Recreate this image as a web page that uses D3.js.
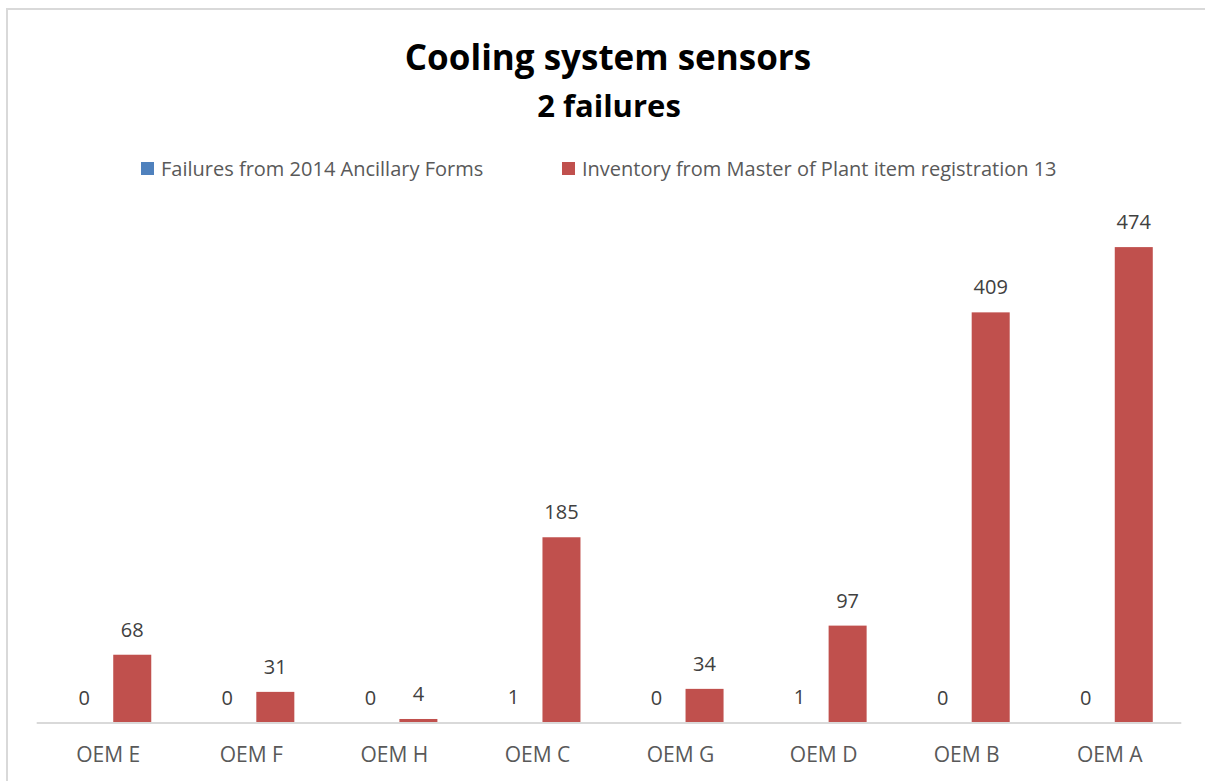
<!DOCTYPE html>
<html>
<head>
<meta charset="utf-8">
<script src="https://cdn.jsdelivr.net/npm/d3@7"></script>
<style>
  html, body { margin: 0; padding: 0; background: #ffffff; }
  svg { display: block; }
  text { font-family: "Open Sans", Lato, sans-serif; }
</style>
</head>
<body>
<svg id="chart" width="1205" height="781"></svg>
<script>
const categories = ["OEM E", "OEM F", "OEM H", "OEM C", "OEM G", "OEM D", "OEM B", "OEM A"];
const seriesNames = ["Failures from 2014 Ancillary Forms", "Inventory from Master of Plant item registration 13"];
const failures = [0, 0, 0, 1, 0, 1, 0, 0];
const inventory = [68, 31, 4, 185, 34, 97, 409, 474];
const seriesColors = ["#4F81BD", "#C0504D"];
const titleText = "Cooling system sensors";
const subtitleText = "2 failures";
const yMax = 500;

const series = [failures, inventory];
const svg = d3.select("#chart");

// chart area border
svg.append("rect")
  .attr("x", 7).attr("y", 9).attr("width", 1230).attr("height", 800)
  .attr("fill", "none").attr("stroke", "#D9D9D9").attr("stroke-width", 2);

const left = 36.7, right = 1181.3, baseline = 723;
const x0 = d3.scaleBand().domain(categories).range([left, right]).padding(0);
const x1 = d3.scaleBand().domain(d3.range(series.length))
  .range([0, x0.bandwidth()]).paddingInner(0.2083).paddingOuter(0.594);
const y = d3.scaleLinear().domain([0, yMax]).range([baseline, 221]);

// Title
svg.append("text").attr("x", 608).attr("y", 70).attr("text-anchor", "middle")
  .attr("font-size", 35).attr("font-weight", "bold").attr("fill", "#000")
  .text(titleText);
svg.append("text").attr("x", 609).attr("y", 117).attr("text-anchor", "middle")
  .attr("font-size", 31).attr("font-weight", "bold").attr("fill", "#000")
  .text(subtitleText);

// Legend
const legendX = [141, 562];
seriesNames.forEach((name, i) => {
  const g = svg.append("g").attr("transform", `translate(${legendX[i]},0)`);
  g.append("rect").attr("x", 0).attr("y", 162).attr("width", 13).attr("height", 13)
    .attr("fill", seriesColors[i]);
  g.append("text").attr("x", 20).attr("y", 176).attr("font-size", 20)
    .attr("fill", "#595959").text(name);
});

// Bars
const groups = svg.append("g").selectAll("g").data(categories).join("g")
  .attr("transform", d => `translate(${x0(d)},0)`);

groups.selectAll("rect")
  .data((d, ci) => series.map((s, si) => ({ si, v: s[ci] })))
  .join("rect")
  .attr("x", d => x1(d.si))
  .attr("width", x1.bandwidth())
  .attr("y", d => y(d.v))
  .attr("height", d => baseline - y(d.v))
  .attr("fill", d => seriesColors[d.si]);

groups.selectAll("text.val")
  .data((d, ci) => series.map((s, si) => ({ si, v: s[ci] })))
  .join("text").attr("class", "val")
  .attr("x", d => x1(d.si) + x1.bandwidth() / 2)
  .attr("y", d => y(d.v) - 18)
  .attr("text-anchor", "middle")
  .attr("font-size", 20)
  .attr("fill", "#404040")
  .text(d => d.v);

// X axis
const xAxis = svg.append("g").attr("transform", `translate(0,${baseline})`)
  .call(d3.axisBottom(x0).tickSize(0).tickPadding(0));
xAxis.select(".domain").attr("stroke", "#D9D9D9").attr("stroke-width", 2)
  .attr("d", `M${left},0H${right}`);
xAxis.selectAll(".tick text")
  .attr("font-family", "'Open Sans', Lato, sans-serif")
  .attr("font-size", 21).attr("fill", "#595959")
  .attr("dy", 0).attr("y", 39);
</script>
</body>
</html>
